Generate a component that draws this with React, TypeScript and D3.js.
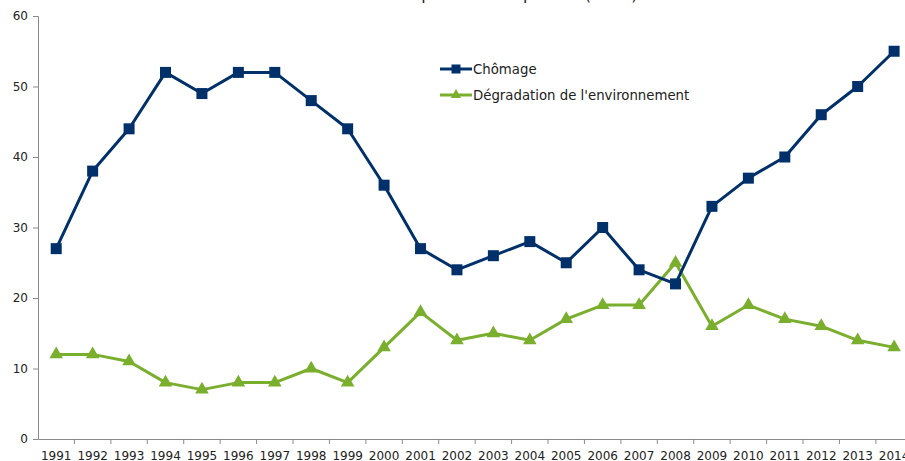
import React, { useEffect, useRef } from "react";
import * as d3 from "d3";

const years = [
  "1991", "1992", "1993", "1994", "1995", "1996", "1997", "1998", "1999", "2000", "2001", "2002",
  "2003", "2004", "2005", "2006", "2007", "2008", "2009", "2010", "2011", "2012", "2013", "2014",
];
const chomage = [27, 38, 44, 52, 49, 52, 52, 48, 44, 36, 27, 24, 26, 28, 25, 30, 24, 22, 33, 37, 40, 46, 50, 55];
const environnement = [12, 12, 11, 8, 7, 8, 8, 10, 8, 13, 18, 14, 15, 14, 17, 19, 19, 25, 16, 19, 17, 16, 14, 13];
const yTicks = [0, 10, 20, 30, 40, 50, 60];
const title = "Cumul des deux premières réponses (en %)";

const NAVY = "#00306a";
const GREEN = "#7aaf2e";
const AXIS = "#8a8a8a";
const FONT = "Verdana, 'DejaVu Sans', sans-serif";

export default function App() {
  const ref = useRef<SVGSVGElement | null>(null);

  useEffect(() => {
    const W = 905, H = 461;
    const svg = d3.select(ref.current);
    svg.selectAll("*").remove();
    svg.attr("width", W).attr("height", H).attr("viewBox", `0 0 ${W} ${H}`);

    const left = 38, top = 16, bottom = 439;
    const step = 36.43;
    const x = d3.scaleBand<string>().domain(years).range([left, left + step * years.length]).padding(0);
    const y = d3.scaleLinear().domain([0, 60]).range([bottom, top]);
    const cx = (d: string) => (x(d) as number) + x.bandwidth() / 2;

    // title (cut at the top in the reference)
    svg.append("text")
      .attr("x", 462).attr("y", 0)
      .attr("text-anchor", "middle")
      .style("font-family", FONT).style("font-size", "16px").attr("fill", "#222")
      .text(title);

    // y axis
    const yAxis = d3.axisLeft(y).tickValues(yTicks).tickSize(5).tickPadding(5).tickFormat(d3.format("d"));
    const gy = svg.append("g").attr("transform", `translate(${left},0)`).call(yAxis);
    gy.select(".domain").attr("stroke", AXIS);
    gy.selectAll(".tick line").attr("stroke", AXIS);
    gy.selectAll(".tick text").style("font-family", FONT).style("font-size", "12px").attr("fill", "#222");

    // x axis: labels centred, ticks at category boundaries
    const xAxis = d3.axisBottom(x).tickSize(0).tickPadding(12);
    const gx = svg.append("g").attr("transform", `translate(0,${bottom})`).call(xAxis);
    gx.select(".domain").attr("stroke", AXIS);
    gx.selectAll(".tick text").style("font-family", FONT).style("font-size", "12px").attr("fill", "#222");
    gx.selectAll(".bound")
      .data(years.slice(1).concat(["end"]))
      .enter()
      .append("line")
      .attr("x1", (_d, i) => left + x.step() * (i + 1))
      .attr("x2", (_d, i) => left + x.step() * (i + 1))
      .attr("y1", 0).attr("y2", 5)
      .attr("stroke", AXIS);

    const line = d3.line<number>().x((_d, i) => cx(years[i])).y(d => y(d));

    // environment series
    svg.append("path").datum(environnement).attr("d", line)
      .attr("fill", "none").attr("stroke", GREEN).attr("stroke-width", 3).attr("stroke-linejoin", "round");
    const tri = d3.symbol().type(d3.symbolTriangle).size(80);
    svg.selectAll(".tri").data(environnement).enter().append("path")
      .attr("d", tri)
      .attr("transform", (d, i) => `translate(${cx(years[i])},${y(d)})`)
      .attr("fill", GREEN);

    // chômage series
    svg.append("path").datum(chomage).attr("d", line)
      .attr("fill", "none").attr("stroke", NAVY).attr("stroke-width", 3).attr("stroke-linejoin", "round");
    svg.selectAll(".sq").data(chomage).enter().append("rect")
      .attr("x", (_d, i) => cx(years[i]) - 5.5)
      .attr("y", d => y(d) - 5.5)
      .attr("width", 11).attr("height", 11)
      .attr("fill", NAVY);

    // legend
    const legend = [
      { name: "Chômage", color: NAVY, shape: "square" },
      { name: "Dégradation de l'environnement", color: GREEN, shape: "triangle" },
    ];
    const lg = svg.append("g").attr("transform", "translate(440,69)");
    legend.forEach((l, i) => {
      const row = lg.append("g").attr("transform", `translate(0,${i * 26})`);
      row.append("line").attr("x1", 0).attr("x2", 32).attr("y1", 0).attr("y2", 0)
        .attr("stroke", l.color).attr("stroke-width", 3);
      if (l.shape === "square") {
        row.append("rect").attr("x", 11.5).attr("y", -4.5).attr("width", 9).attr("height", 9).attr("fill", l.color);
      } else {
        row.append("path").attr("d", d3.symbol().type(d3.symbolTriangle).size(45)).attr("transform", "translate(16,0)").attr("fill", l.color);
      }
      row.append("text").attr("x", 33).attr("y", 4.5)
        .style("font-family", FONT).style("font-size", "13.3px").attr("fill", "#222")
        .text(l.name);
    });
  }, []);

  return (
    <div style={{ position: "absolute", left: 0, top: 0, width: 905, height: 461, background: "#fff", overflow: "hidden" }}>
      <svg ref={ref} style={{ display: "block" }} />
    </div>
  );
}
